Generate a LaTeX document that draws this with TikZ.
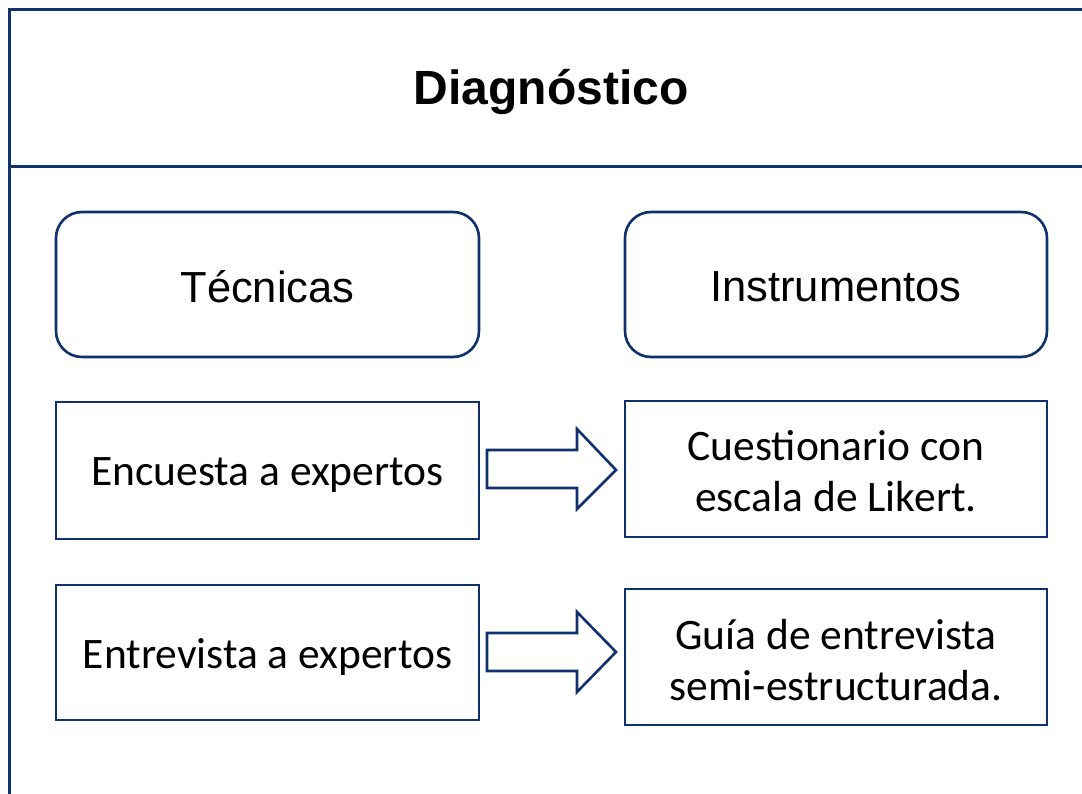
\documentclass[tikz,border=0pt]{standalone}
\usepackage{fontspec}
\setmainfont{Liberation Sans}
\newfontfamily\calib{Carlito}
\definecolor{navy}{HTML}{10306E}
\begin{document}
\begin{tikzpicture}[x=1pt,y=-1pt,
  frameline/.style={draw=navy,line width=3pt},
  roundbox/.style={draw=navy,line width=2.6pt,rounded corners=26pt,fill=white},
  plainbox/.style={draw=navy,line width=2.6pt,fill=white},
  blockarrow/.style={draw=navy,line width=2.6pt,fill=white,line join=miter},
  titletext/.style={font=\fontsize{48}{56}\selectfont\bfseries},
  headtext/.style={font=\fontsize{43.5}{50}\selectfont},
  bodytext/.style={font=\calib\fontsize{43.5}{51}\selectfont,align=center}]
\useasboundingbox (0,0) rectangle (1082,794);
% frame
\draw[frameline] (9,794) -- (9,10) -- (1082,10);
\draw[frameline] (9,167) -- (1082,167);
\node[titletext] (title) at (551,92) {Diagnóstico};
% header boxes
\draw[roundbox] (56,212) rectangle (479,357);
\node[headtext] (tec) at (267.5,287) {Técnicas};
\draw[roundbox] (625,212) rectangle (1047,357);
\node[headtext] (ins) at (836,287) {Instrumentos};
% row 1
\draw[plainbox] (56,402) rectangle (479,539);
\node[bodytext] (enc) at (267.5,475) {Encuesta a expertos};
\draw[plainbox] (625,401) rectangle (1047,537);
\node[bodytext] (cue) at (836,471) {Cuestionario con\\escala de Likert.};
% row 2
\draw[plainbox] (56,585) rectangle (479,720);
\node[bodytext] (ent) at (267.5,657) {Entrevista a expertos};
\draw[plainbox] (625,589) rectangle (1047,725);
\node[bodytext] (gui) at (836,660) {Guía de entrevista\\semi-estructurada.};
% block arrows
\draw[blockarrow] (487,450) -- (577,450) -- (577,429) -- (616,470) -- (577,509) -- (577,488) -- (487,488) -- cycle;
\draw[blockarrow] (487,633) -- (577,633) -- (577,612) -- (616,652) -- (577,692) -- (577,671) -- (487,671) -- cycle;
\end{tikzpicture}
\end{document}
